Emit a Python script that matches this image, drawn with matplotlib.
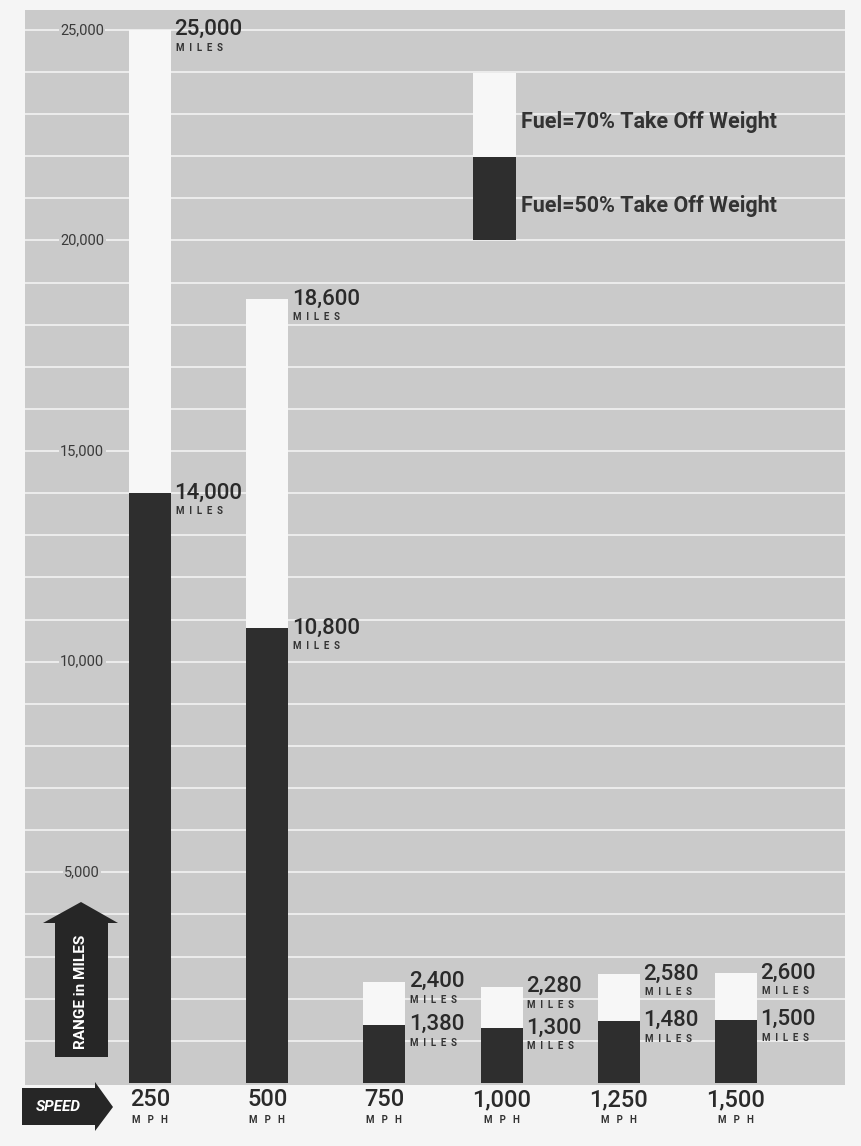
import matplotlib
matplotlib.use("Agg")
import numpy as np
import matplotlib.pyplot as plt
from matplotlib import font_manager
from matplotlib.patches import Polygon, Rectangle

# ---------------- data ----------------
speeds = ["250", "500", "750", "1,000", "1,250", "1,500"]
range_fuel70 = [25000, 18600, 2400, 2280, 2580, 2600]
range_fuel50 = [14000, 10800, 1380, 1300, 1480, 1500]
ytick_values = [5000, 10000, 15000, 20000, 25000]
ytick_labels = ["5,000", "10,000", "15,000", "20,000", "25,000"]
legend_labels = ["Fuel=70% Take Off Weight", "Fuel=50% Take Off Weight"]

# ---------------- fonts ----------------
available = {f.name for f in font_manager.fontManager.ttflist}
main_font = "Roboto" if "Roboto" in available else "DejaVu Sans"
plt.rcParams["font.family"] = [main_font, "DejaVu Sans"]

W, H = 861, 1146
BG = "#cacaca"
DARK = "#2e2e2e"
LIGHT = "#f7f7f7"
TXT = "#2a2a2a"


def fx(px):
    return px / W


def fy(py):
    return 1 - py / H


fig = plt.figure(figsize=(W / 100, H / 100), dpi=100, facecolor="#f5f5f5")
ax = fig.add_axes([fx(25), fy(1085), (845 - 25) / W, (1085 - 10) / H])
ax.set_facecolor(BG)

x = np.arange(len(speeds))
bw = 0.358
ax.set_xlim(-1.067, 5.93)
ax.set_ylim(-50, 25470)

# grid every 1000 miles
ax.set_yticks(np.arange(1000, 25001, 1000))
ax.yaxis.grid(True, color="#ececec", lw=1.4)
ax.set_axisbelow(True)
ax.tick_params(left=False, bottom=False, labelleft=False, labelbottom=False)
for s in ax.spines.values():
    s.set_visible(False)
ax.set_xticks([])

ax.bar(x, range_fuel70, width=bw, color=LIGHT, zorder=2)
ax.bar(x, range_fuel50, width=bw, color=DARK, zorder=3)

# y tick labels drawn inside the plot
for v, lab in zip(ytick_values, ytick_labels):
    ax.text(-0.58, v, lab, ha="center", va="center", fontsize=10.5, color="#3a3a3a",
            bbox=dict(facecolor=BG, edgecolor="none", pad=1.0), zorder=4)

# value labels
for xi, v70, v50 in zip(x, range_fuel70, range_fuel50):
    for v in (v70, v50):
        ax.annotate(f"{v:,}", xy=(xi + bw / 2, v), xytext=(2.5, 0), textcoords="offset points",
                    ha="left", va="center", fontsize=16, fontweight="medium", color=TXT, zorder=5)
        ax.annotate("M  I  L  E  S", xy=(xi + bw / 2, v), xytext=(3.5, -13), textcoords="offset points",
                    ha="left", va="center", fontsize=7, fontweight="bold", color="#333333", zorder=5)

# x labels
for xi, sp in zip(x, speeds):
    ax.annotate(sp, xy=(xi, 0), xytext=(0, -12), textcoords="offset points", ha="center",
                va="center", fontsize=17, fontweight="medium", color=TXT, annotation_clip=False)
    ax.annotate("M   P   H", xy=(xi, 0), xytext=(0, -27), textcoords="offset points", ha="center",
                va="center", fontsize=7, fontweight="bold", color="#333333", annotation_clip=False)

# range arrow (vertical)
rng = [(55, 1057), (108, 1057), (108, 923), (118, 923), (81, 902), (43, 923), (55, 923)]
ax.add_patch(Polygon([(fx(a), fy(b)) for a, b in rng], closed=True, facecolor="#262626",
                     edgecolor="none", transform=fig.transFigure, clip_on=False, zorder=6))
fig.text(fx(81), fy(992), "RANGE in MILES", rotation=90, ha="center", va="center",
         fontsize=11, fontweight="bold", color="white", zorder=7)

# speed arrow (horizontal)
spd = [(22, 1088), (95, 1088), (95, 1082), (113, 1107), (95, 1131), (95, 1125), (22, 1125)]
ax.add_patch(Polygon([(fx(a), fy(b)) for a, b in spd], closed=True, facecolor="#262626",
                     edgecolor="none", transform=fig.transFigure, clip_on=False, zorder=6))
fig.text(fx(58), fy(1107), "SPEED", ha="center", va="center", fontsize=11,
         fontweight="bold", fontstyle="italic", color="white", zorder=7)

# legend
ax.add_patch(Rectangle((fx(473), fy(157)), (516 - 473) / W, (157 - 73) / H, facecolor=LIGHT,
                       edgecolor="none", transform=fig.transFigure, clip_on=False, zorder=6))
ax.add_patch(Rectangle((fx(473), fy(240)), (516 - 473) / W, (240 - 157) / H, facecolor=DARK,
                       edgecolor="none", transform=fig.transFigure, clip_on=False, zorder=6))
fig.text(fx(521), fy(122), legend_labels[0], ha="left", va="center", fontsize=15.5,
         fontweight="bold", color="#333333")
fig.text(fx(521), fy(206), legend_labels[1], ha="left", va="center", fontsize=15.5,
         fontweight="bold", color="#333333")

fig.savefig("out.png", dpi=100, facecolor=fig.get_facecolor())
